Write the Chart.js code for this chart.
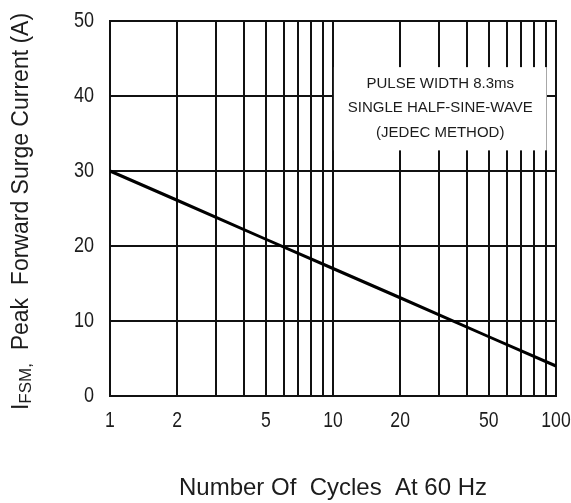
<!DOCTYPE html>
<html><head><meta charset="utf-8">
<script src="https://cdn.jsdelivr.net/npm/chart.js@4/dist/chart.umd.min.js"></script>
<style>html,body{margin:0;padding:0;background:#fff}#w{width:571px;height:503px}</style>
</head><body><div id="w"><canvas id="c"></canvas></div>
<script>
const cycles = [1, 2, 5, 10, 20, 50, 100];
const surgeCurrent = [30, 26.1, 20.9, 17, 13.1, 7.9, 4];
const xTickValues = [1,2,3,4,5,6,7,8,9,10,20,30,40,50,60,70,80,90,100];
const xTickLabels = [1, 2, 5, 10, 20, 50, 100];
const yTicks = [0, 10, 20, 30, 40, 50];
const noteLines = ['PULSE WIDTH 8.3ms', 'SINGLE HALF-SINE-WAVE', '(JEDEC METHOD)'];
const xTitle = 'Number Of  Cycles  At 60 Hz';

const SANS = "'Liberation Sans',Arial,sans-serif";

function narrowText(ctx, text, x, y, align, sx) {
  ctx.save();
  ctx.translate(x, y);
  ctx.scale(sx, 1);
  ctx.textAlign = align;
  ctx.fillText(text, 0, 0);
  ctx.restore();
}

const overlay = {
  id: 'overlay',
  afterDraw(chart) {
    const ctx = chart.ctx, a = chart.chartArea;
    const xs = chart.scales.x, ys = chart.scales.y;
    ctx.save();
    ctx.fillStyle = '#1c1c1c';
    ctx.font = '22px ' + SANS;
    ctx.textBaseline = 'middle';
    xTickLabels.forEach(v => narrowText(ctx, String(v), xs.getPixelForValue(v), a.bottom + 25, 'center', 0.8));
    yTicks.forEach(v => narrowText(ctx, String(v), a.left - 16, ys.getPixelForValue(v), 'right', 0.82));
    // note box
    const bx0 = a.left + (a.right - a.left) * 0.502, bx1 = a.left + (a.right - a.left) * 0.979;
    const by0 = a.top + (a.bottom - a.top) * 0.123, by1 = a.top + (a.bottom - a.top) * 0.345;
    ctx.fillStyle = '#fff';
    ctx.fillRect(bx0, by0, bx1 - bx0, by1 - by0);
    ctx.fillStyle = '#1c1c1c';
    ctx.font = '15px ' + SANS;
    const cx = (bx0 + bx1) / 2;
    noteLines.forEach((t, i) => narrowText(ctx, t, cx, by0 + 16.5 + i * 24.5, 'center', 1.0));
    // x title
    ctx.font = '24px ' + SANS;
    ctx.textAlign = 'center';
    ctx.fillText(xTitle, (a.left + a.right) / 2, 488);
    // y title with subscript
    ctx.translate(22, (a.top + a.bottom) / 2 + 3);
    ctx.rotate(-Math.PI / 2);
    const p1 = 'I', p2 = 'FSM,', p3 = '  Peak  Forward Surge Current (A)';
    ctx.font = '23px ' + SANS; const w1 = ctx.measureText(p1).width, w3 = ctx.measureText(p3).width;
    ctx.font = '17px ' + SANS; const w2 = ctx.measureText(p2).width;
    let x = -(w1 + w2 + w3) / 2;
    ctx.textAlign = 'left';
    ctx.font = '23px ' + SANS; ctx.fillText(p1, x, 0); x += w1;
    ctx.font = '17px ' + SANS; ctx.fillText(p2, x, 4); x += w2;
    ctx.font = '23px ' + SANS; ctx.fillText(p3, x, 0);
    ctx.restore();
  }
};

new Chart(document.getElementById('c'), {
  type: 'line',
  data: {
    datasets: [{
      data: cycles.map((c, i) => ({x: c, y: surgeCurrent[i]})),
      borderColor: '#000', borderWidth: 3, pointRadius: 0, tension: 0, fill: false
    }]
  },
  options: {
    responsive: true, maintainAspectRatio: false, animation: false,
    layout: {padding: {top: 21, right: 15, left: 0, bottom: 0}},
    plugins: {legend: {display: false}, tooltip: {enabled: false}},
    scales: {
      x: {
        type: 'logarithmic', min: 1, max: 100,
        afterBuildTicks(s) { s.ticks = xTickValues.map(v => ({value: v})); },
        afterFit(s) { s.height = 107; },
        grid: {color: '#111', lineWidth: 2, drawTicks: false},
        border: {color: '#111', width: 2},
        ticks: {display: false, autoSkip: false}
      },
      y: {
        min: 0, max: 50,
        afterBuildTicks(s) { s.ticks = yTicks.map(v => ({value: v})); },
        afterFit(s) { s.width = 110; },
        grid: {color: '#111', lineWidth: 2, drawTicks: false},
        border: {color: '#111', width: 2},
        ticks: {display: false}
      }
    }
  },
  plugins: [overlay, {
    id: 'frame',
    beforeDatasetsDraw(chart) {
      const ctx = chart.ctx, a = chart.chartArea;
      ctx.save(); ctx.strokeStyle = '#111'; ctx.lineWidth = 2;
      ctx.strokeRect(a.left, a.top, a.right - a.left, a.bottom - a.top);
      ctx.restore();
    }
  }]
});
</script></body></html>
